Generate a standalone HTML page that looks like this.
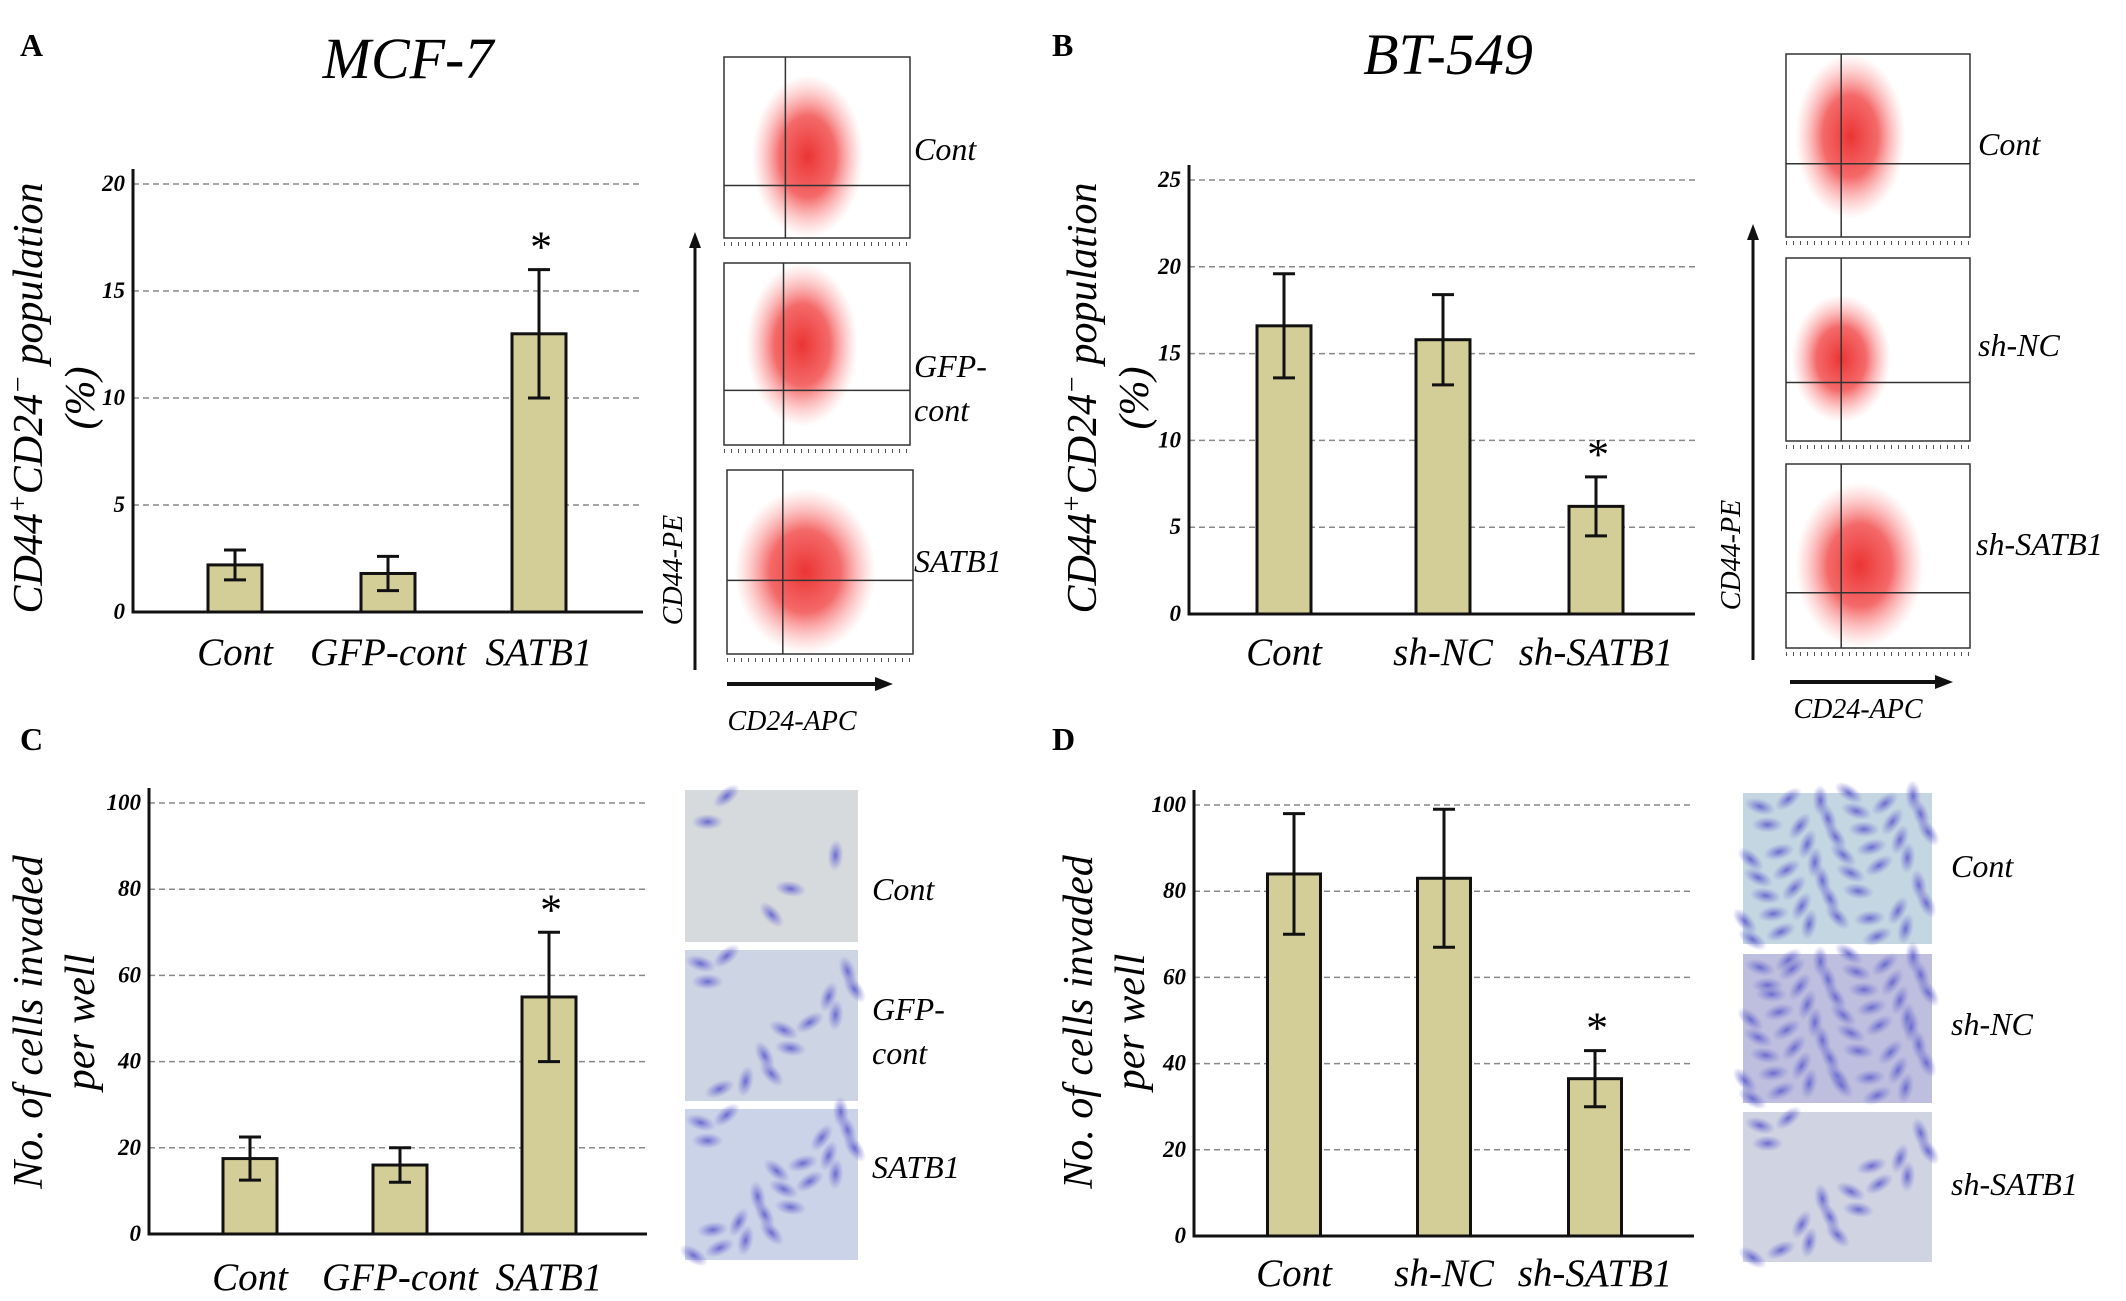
<!DOCTYPE html>
<html><head><meta charset="utf-8"><style>
body{margin:0;background:#fff;}
svg{display:block;font-family:"Liberation Serif",serif;}
</style></head><body>
<svg id="fig" width="2126" height="1301" viewBox="0 0 2126 1301">
<defs>
<radialGradient id="flowA" cx="50%" cy="50%" r="50%"><stop offset="0" stop-color="#e81010"/><stop offset="0.5" stop-color="#f03030" stop-opacity="0.85"/><stop offset="1" stop-color="#ff8080" stop-opacity="0"/></radialGradient>
<radialGradient id="cellP" cx="50%" cy="50%" r="50%"><stop offset="0" stop-color="#6a6ad0"/><stop offset="1" stop-color="#8a8ad8" stop-opacity="0"/></radialGradient>
</defs>
<g font-weight="bold" font-size="32">
<text x="20" y="56">A</text>
<text x="1052" y="56">B</text>
<text x="20" y="750">C</text>
<text x="1052" y="750">D</text>
</g>
<text x="408" y="78" font-size="58" font-style="italic" text-anchor="middle">MCF-7</text>
<text x="1448" y="74" font-size="58" font-style="italic" text-anchor="middle">BT-549</text>
<g id="charts"></g>
<g id="images"></g>
</svg>
<script>
// Panel A data
const catsA = ["Cont","GFP-cont","SATB1"];
const valsA = [2.2, 1.8, 13];
const errA = [0.7, 0.8, 3];
const ticksA = [0,5,10,15,20];
// Panel B data
const catsB = ["Cont","sh-NC","sh-SATB1"];
const valsB = [16.6, 15.8, 6.2];
const errB = [3, 2.6, 1.7];
const ticksB = [0,5,10,15,20,25];
// Panel C data
const catsC = ["Cont","GFP-cont","SATB1"];
const valsC = [17.5, 16, 55];
const errC = [5, 4, 15];
const ticksC = [0,20,40,60,80,100];
// Panel D data
const catsD = ["Cont","sh-NC","sh-SATB1"];
const valsD = [84, 83, 36.5];
const errD = [14, 16, 6.5];
const ticksD = [0,20,40,60,80,100];
const starA = [false,false,true];
const starB = [false,false,true];
const starC = [false,false,true];
const starD = [false,false,true];

const NS="http://www.w3.org/2000/svg";
function mk(parent,tag,attrs){const e=document.createElementNS(NS,tag);for(const k in attrs)e.setAttribute(k,attrs[k]);parent.appendChild(e);return e;}

function chart(id,cfg,cats,vals,errs,ticks,stars){
  const g=mk(document.getElementById('charts'),'g',{});
  
  
  const max=ticks[ticks.length-1];
  const y=v=>cfg.y0-(v/max)*(cfg.y0-cfg.yTop);
  const x=i=>cfg.centers[i];
  ticks.forEach(t=>{
    if(t>0){const l=mk(g,'line',{x1:cfg.x0,x2:cfg.x1,y1:y(t),y2:y(t),stroke:'#888','stroke-width':1.5,'stroke-dasharray':'6,4'});
    
    }
    const tx=mk(g,'text',{x:cfg.x0-8,y:y(t)+7,'text-anchor':'end','font-size':23,'font-style':'italic','font-weight':'bold'});
    tx.textContent=t;
    
    
  });
  vals.forEach((v,i)=>{
    const r=mk(g,'rect',{x:x(i)-cfg.bw/2,y:y(v),width:cfg.bw,height:cfg.y0-y(v),fill:'#d3cd97',stroke:'#111','stroke-width':3});
    
    
    const hi=y(v+errs[i]),lo=y(v-errs[i]);
    const e=mk(g,'path',{d:`M${x(i)},${hi}V${lo}M${x(i)-11},${hi}H${x(i)+11}M${x(i)-11},${lo}H${x(i)+11}`,stroke:'#111','stroke-width':3,fill:'none'});
    
    
    const c=mk(g,'text',{x:x(i),y:cfg.labelY,'text-anchor':'middle','font-size':39,'font-style':'italic'});
    c.textContent=cats[i];
    
    
    if(stars[i]){const s=mk(g,'text',{x:x(i),y:hi-8,'text-anchor':'middle','font-size':44,'font-style':'italic'});
      s.textContent='*';
      
      }
  });
  const ax=mk(g,'path',{d:`M${cfg.x0},${cfg.yTop-15}V${cfg.y0}H${cfg.x1}`,stroke:'#111','stroke-width':3,fill:'none'});
  
  
  const t=mk(g,'text',{transform:`translate(${cfg.tx},${cfg.ty}) rotate(-90)`,'text-anchor':'middle','font-size':42,'font-style':'italic'});
  cfg.title.forEach((line,k)=>{const ts=mk(t,'tspan',{x:0,dy:k?52:0});ts.innerHTML=line;});
  
  
}
const popTitle=['CD44<tspan baseline-shift="super" font-size="28">+</tspan>CD24<tspan baseline-shift="super" font-size="28">−</tspan> population','(%)'];
const invTitle=['No. of cells invaded','per well'];
chart('panel-a',{x0:133,x1:643,y0:612,yTop:184,centers:[235,388,539],bw:54,labelY:665,tx:42,ty:398,title:popTitle},catsA,valsA,errA,ticksA,starA);
chart('panel-b',{x0:1189,x1:1695,y0:614,yTop:180,centers:[1284,1443,1596],bw:54,labelY:665,tx:1096,ty:398,title:popTitle},catsB,valsB,errB,ticksB,starB);
chart('panel-c',{x0:149,x1:647,y0:1234,yTop:803,centers:[250,400,549],bw:54,labelY:1290,tx:42,ty:1022,title:invTitle},catsC,valsC,errC,ticksC,starC);
chart('panel-d',{x0:1194,x1:1694,y0:1236,yTop:805,centers:[1294,1444,1595],bw:53,labelY:1286,tx:1092,ty:1022,title:invTitle},catsD,valsD,errD,ticksD,starD);

const imgs=document.getElementById('images');
function label(x,y,lines,name){const t=mk(imgs,'text',{x:x,y:y,'font-size':32,'font-style':'italic'});
  lines.forEach((l,k)=>{const ts=mk(t,'tspan',{x:x,dy:k?44:0});ts.textContent=l;});
  
  }
function flow(x,y,w,h,qx,qy,bx,by,brx,bry,name){
  const g=mk(imgs,'g',{});
  
  
  mk(g,'rect',{x:x,y:y,width:w,height:h,fill:'#fff',stroke:'#333','stroke-width':1.5});
  mk(g,'ellipse',{cx:x+bx*w,cy:y+by*h,rx:brx*w,ry:bry*h,fill:'url(#flowA)',opacity:0.85});
  mk(g,'line',{x1:x+qx*w,x2:x+qx*w,y1:y,y2:y+h,stroke:'#333','stroke-width':1.5});
  mk(g,'line',{x1:x,x2:x+w,y1:y+qy*h,y2:y+qy*h,stroke:'#333','stroke-width':1.5});
  mk(g,'line',{x1:x,x2:x+w,y1:y+h+6,y2:y+h+6,stroke:'#555','stroke-width':4,'stroke-dasharray':'1,6'});
}
flow(724,57,186,181,0.33,0.71,0.45,0.55,0.3,0.45,'flow-plot-a-cont');
flow(724,263,186,182,0.32,0.7,0.42,0.45,0.3,0.45,'flow-plot-a-gfp');
flow(727,470,186,184,0.3,0.6,0.42,0.55,0.38,0.45,'flow-plot-a-satb1');
flow(1786,54,184,183,0.3,0.6,0.35,0.45,0.3,0.45,'flow-plot-b-cont');
flow(1786,258,184,183,0.3,0.68,0.3,0.55,0.27,0.35,'flow-plot-b-shnc');
flow(1786,464,184,184,0.3,0.7,0.4,0.55,0.35,0.45,'flow-plot-b-shsatb1');
label(914,160,['Cont'],'flow-label-a-cont');label(914,377,['GFP-','cont'],'flow-label-a-gfp');label(914,572,['SATB1'],'flow-label-a-satb1');
label(1978,155,['Cont'],'flow-label-b-cont');label(1978,356,['sh-NC'],'flow-label-b-shnc');label(1976,555,['sh-SATB1'],'flow-label-b-shsatb1');
function arrows(vx,vy1,vy2,hx1,hx2,hy,lx,ly,cx,cy,name){
  const g=mk(imgs,'g',{});
  
  
  mk(g,'path',{d:`M${vx},${vy2}V${vy1+14}`,stroke:'#111','stroke-width':3});
  mk(g,'path',{d:`M${vx-6},${vy1+16}L${vx},${vy1}L${vx+6},${vy1+16}Z`,fill:'#111'});
  mk(g,'path',{d:`M${hx1},${hy}H${hx2-16}`,stroke:'#111','stroke-width':4});
  mk(g,'path',{d:`M${hx2-18},${hy-7}L${hx2},${hy}L${hx2-18},${hy+7}Z`,fill:'#111'});
  const a=mk(g,'text',{transform:`translate(${lx},${ly}) rotate(-90)`,'text-anchor':'middle','font-size':28,'font-style':'italic'});a.textContent='CD44-PE';
  const b=mk(g,'text',{x:cx,y:cy,'text-anchor':'middle','font-size':28,'font-style':'italic'});b.textContent='CD24-APC';
}
arrows(695,232,670,727,893,684,682,570,792,730,'flow-axes-a');
arrows(1753,224,660,1790,1953,682,1740,555,1858,718,'flow-axes-b');
function well(x,y,w,h,bg,n,name){
  const g=mk(imgs,'g',{});
  
  
  mk(g,'rect',{x:x,y:y,width:w,height:h,fill:bg});
  for(let i=0;i<n;i++){const px=x+w*((i*0.37+0.13)%1),py=y+h*((i*0.61+0.21)%1);
    mk(g,'ellipse',{cx:px,cy:py,rx:16,ry:8,transform:`rotate(${(i*47)%180} ${px} ${py})`,fill:'url(#cellP)'});}
}
well(685,790,173,152,'#d6dadd',5,'invasion-image-c-cont');
well(685,950,173,151,'#cdd4e4',14,'invasion-image-c-gfp');
well(685,1109,173,151,'#cbd3e8',22,'invasion-image-c-satb1');
well(1743,793,189,151,'#c4d6e2',45,'invasion-image-d-cont');
well(1743,954,189,149,'#bebede',50,'invasion-image-d-shnc');
well(1743,1112,189,150,'#d0d4e2',18,'invasion-image-d-shsatb1');
label(872,900,['Cont'],'invasion-label-c-cont');label(872,1020,['GFP-','cont'],'invasion-label-c-gfp');label(872,1178,['SATB1'],'invasion-label-c-satb1');
label(1951,877,['Cont'],'invasion-label-d-cont');label(1951,1035,['sh-NC'],'invasion-label-d-shnc');label(1951,1195,['sh-SATB1'],'invasion-label-d-shsatb1');
</script>
</body></html>
